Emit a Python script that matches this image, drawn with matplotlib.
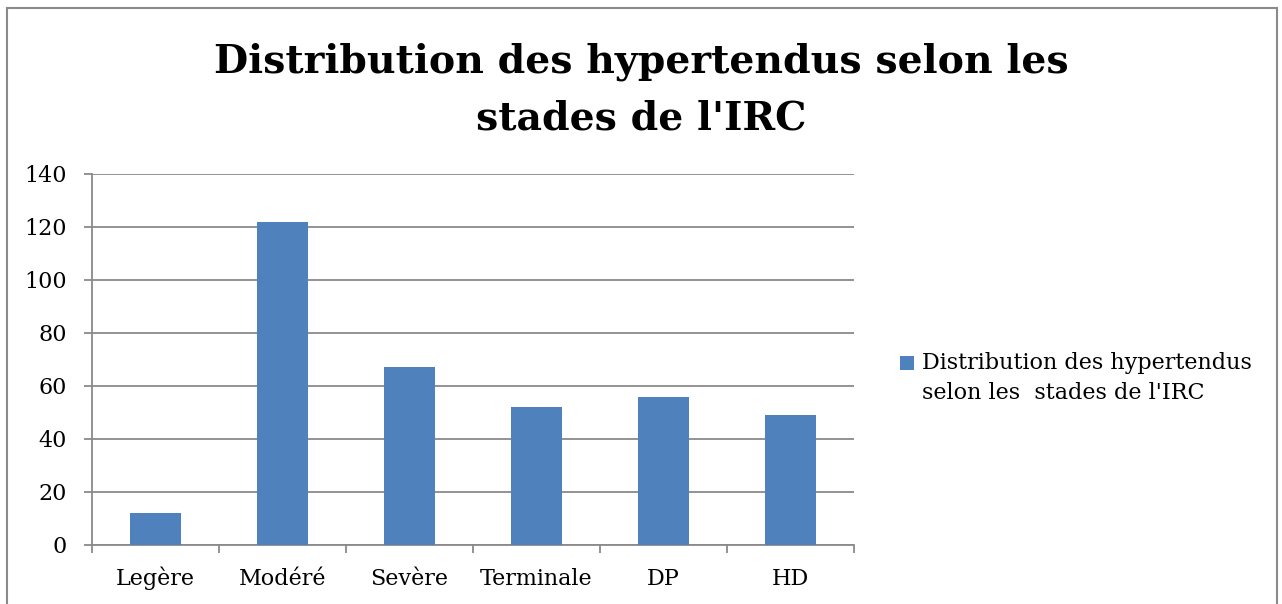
import numpy as np
from matplotlib import pyplot as plt
from matplotlib.patches import Rectangle

#donnees
stades = ["Legère", "Modéré", "Sevère", "Terminale", "DP", "HD"]
effectifs = [12, 122, 67, 52, 56, 49]
serie = "Distribution des hypertendus\nselon les  stades de l'IRC"
titre = ["Distribution des hypertendus selon les", "stades de l'IRC"]

gris = "#8a8a8a"
police = "DejaVu Serif"

fig = plt.figure(figsize=(12.82, 6.04), dpi=100)
ax = fig.add_axes([0.0718, 0.0977, 0.5942, 0.6143])

x = np.arange(len(stades))
ax.bar(x, effectifs, width=0.4, color="#4F81BD", label=serie, zorder=3)

ax.set_xlim(-0.5, len(stades) - 0.5)
ax.set_ylim(0, 140)
ax.set_yticks(range(0, 141, 20))
ax.set_xticks(x)
ax.set_xticklabels(stades)
ax.set_xticks(np.arange(-0.5, len(stades)), minor=True)
ax.grid(axis="y", color=gris, linewidth=1.3, zorder=0)

for s in ["top", "right"]:
    ax.spines[s].set_visible(False)
for s in ["left", "bottom"]:
    ax.spines[s].set_color(gris)
    ax.spines[s].set_linewidth(1.3)

ax.tick_params(axis="x", which="major", length=0, pad=29)
ax.tick_params(axis="x", which="minor", length=6, color=gris, width=1.3)
ax.tick_params(axis="y", length=6, color=gris, width=1.3, pad=12)
for lab in ax.get_xticklabels() + ax.get_yticklabels():
    lab.set_fontfamily(police)
    lab.set_fontsize(16)
for lab in ax.get_xticklabels():
    lab.set_va("baseline")

# titre sur deux lignes
for i, ligne in enumerate(titre):
    fig.text(0.5, 1 - (62 + 56 * i) / 604, ligne, ha="center", va="center",
             fontsize=28.4, fontweight="bold", family=police)

leg = ax.legend(loc="center left", bbox_to_anchor=(1.035, 0.45), frameon=False,
                prop={"family": police, "size": 16}, labelspacing=0,
                handlelength=0.6, handleheight=0.6, handletextpad=0.35)
for t in leg.get_texts():
    t.set_linespacing(1.45)
# carre aligne sur la premiere ligne
h = leg.legend_handles[0]
h.set_y(h.get_y() + 11)

fig.patches.append(Rectangle((7 / 1282, -0.01), 1270 / 1282, 1 - 8 / 604 + 0.01,
                             transform=fig.transFigure, fill=False,
                             edgecolor=gris, linewidth=1.5))

fig.savefig("out.png", dpi=100)
